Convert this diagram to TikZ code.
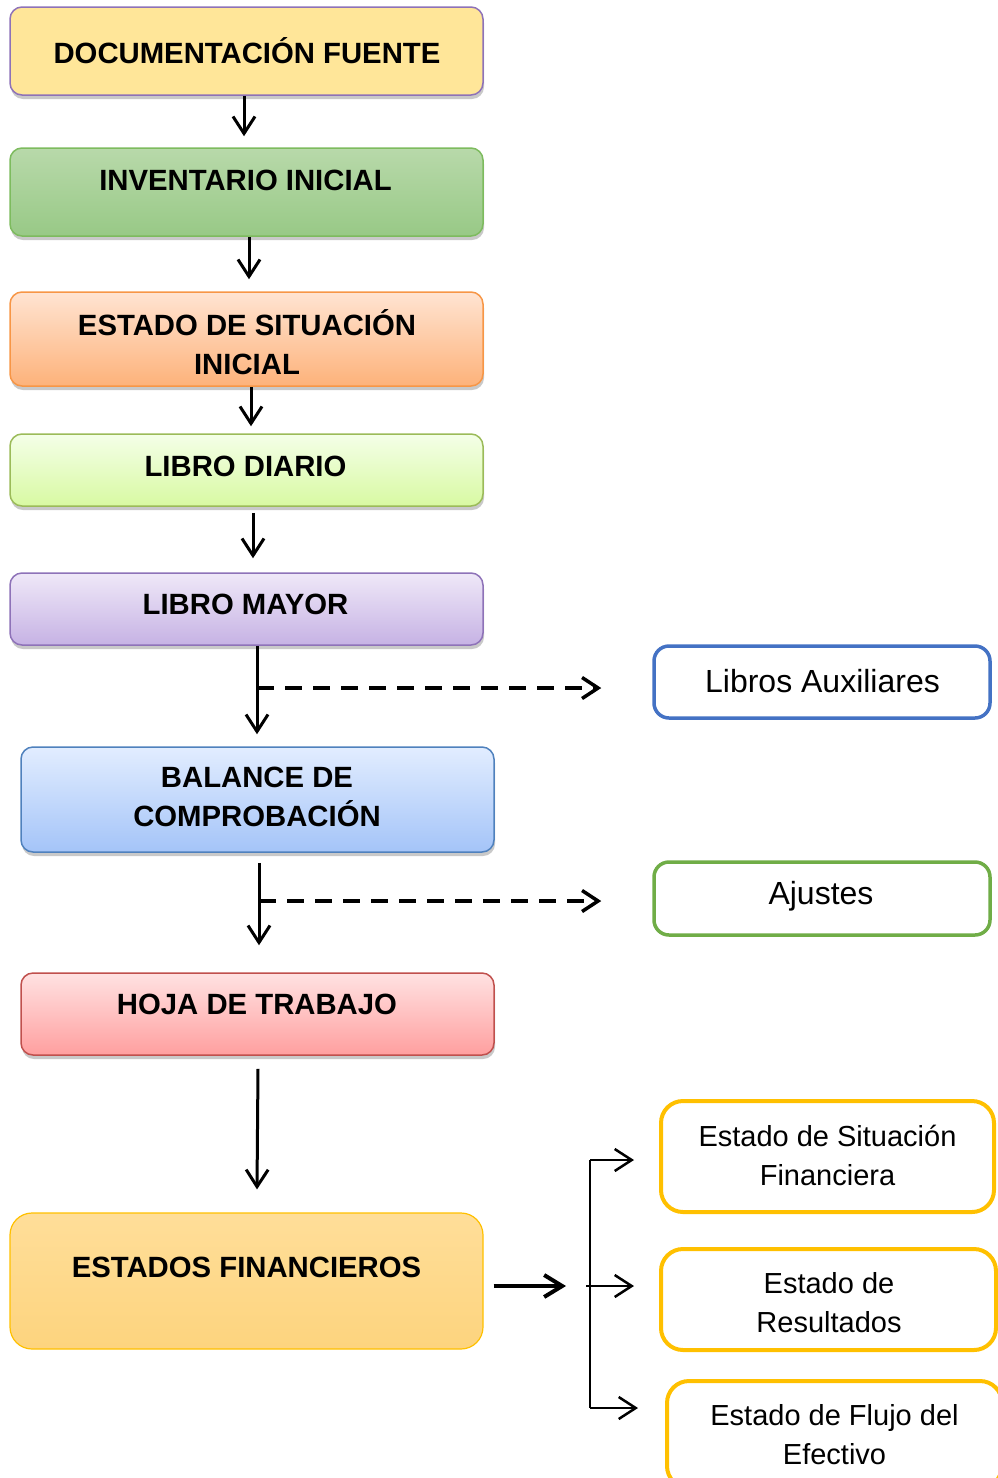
\documentclass[tikz,border=0pt]{standalone}
\usepackage{fontspec}
\setmainfont{Liberation Sans}
\usetikzlibrary{arrows.meta,shadows}
\definecolor{fYel}{HTML}{FFE699}
\definecolor{dPur}{HTML}{8E72B8}
\definecolor{gTop}{HTML}{B8D9AA}
\definecolor{gBot}{HTML}{98C986}
\definecolor{dGrn}{HTML}{7DBB5E}
\definecolor{oTop}{HTML}{FFE4D2}
\definecolor{oBot}{HTML}{FDB27A}
\definecolor{dOra}{HTML}{F79646}
\definecolor{lTop}{HTML}{F4FFE8}
\definecolor{lBot}{HTML}{D8F9A2}
\definecolor{dLgr}{HTML}{9BBB59}
\definecolor{pTop}{HTML}{EFE8F8}
\definecolor{pBot}{HTML}{C6B2E4}
\definecolor{bTop}{HTML}{E2EDFF}
\definecolor{bBot}{HTML}{A4C4F8}
\definecolor{dBlu}{HTML}{4F81BD}
\definecolor{rTop}{HTML}{FFE2E2}
\definecolor{rBot}{HTML}{FF9F9F}
\definecolor{dRed}{HTML}{C0504D}
\definecolor{yTop}{HTML}{FFDE99}
\definecolor{yBot}{HTML}{FDD47E}
\definecolor{dGold}{HTML}{FFC000}
\definecolor{auxBlu}{HTML}{4472C4}
\definecolor{ajGrn}{HTML}{70AD47}
\begin{document}
\begin{tikzpicture}[x=1pt,y=-1pt,
  mainbox/.style={rectangle, rounded corners=12pt, line width=1.5pt, inner sep=0pt,
    minimum width=473pt},
  shad/.style={drop shadow={shadow xshift=1pt, shadow yshift=-4pt, opacity=0.3, fill=black!70}},
  sidebox/.style={rectangle, rounded corners=15pt, line width=3.5pt, fill=white, inner sep=0pt},
  finbox/.style={rectangle, rounded corners=22pt, line width=4pt, draw=dGold, fill=white, inner sep=0pt},
  boldlbl/.style={align=center, inner sep=0pt, font=\fontsize{29.3}{39}\selectfont\bfseries},
  lbl/.style={align=center, inner sep=0pt, font=\fontsize{29}{39}\selectfont},
  biglbl/.style={align=center, inner sep=0pt, font=\fontsize{32}{39}\selectfont},
  arr/.style={line width=3pt, -{Straight Barb[length=17pt,width=22pt]}},
  darr/.style={line width=3.5pt, dash pattern=on 17pt off 11pt, -{Straight Barb[length=16pt,width=21pt]}},
  bigarr/.style={line width=4pt, -{Straight Barb[length=18pt,width=22pt]}},
  barr/.style={line width=2.5pt, -{Straight Barb[length=17pt,width=22pt]}},
  brline/.style={line width=2.5pt}
]
\useasboundingbox (0,0) rectangle (997,1478);

% main column boxes
\node[mainbox, shad, draw=dPur, fill=fYel, minimum height=88pt] (b1) at (246.5,51) {};
\node[mainbox, shad, draw=dGrn, top color=gTop, bottom color=gBot, minimum height=88pt] (b2) at (246.5,192) {};
\node[mainbox, shad, draw=dOra, top color=oTop, bottom color=oBot, minimum height=94pt] (b3) at (246.5,339) {};
\node[mainbox, shad, draw=dLgr, top color=lTop, bottom color=lBot, minimum height=72pt] (b4) at (246.5,470) {};
\node[mainbox, shad, draw=dPur, top color=pTop, bottom color=pBot, minimum height=72pt] (b5) at (246.5,609) {};
\node[mainbox, shad, draw=dBlu, top color=bTop, bottom color=bBot, minimum height=105pt] (b6) at (257.5,799.5) {};
\node[mainbox, shad, draw=dRed, top color=rTop, bottom color=rBot, minimum height=82pt] (b7) at (257.5,1014) {};
\node[mainbox, draw=dGold, line width=1.2pt, top color=yTop, bottom color=yBot, minimum height=136pt, rounded corners=22pt] (b8) at (246.5,1281) {};

\node[boldlbl] (t1) at (247,51) {DOCUMENTACIÓN FUENTE};
\node[boldlbl] (t2) at (245.5,180) {INVENTARIO INICIAL};
\node[boldlbl] (t3) at (247,342) {ESTADO DE SITUACIÓN\\INICIAL};
\node[boldlbl] (t4) at (245.5,466) {LIBRO DIARIO};
\node[boldlbl] (t5) at (245.5,604) {LIBRO MAYOR};
\node[boldlbl] (t6) at (257,797) {BALANCE DE\\COMPROBACIÓN};
\node[boldlbl] (t7) at (257,1004) {HOJA DE TRABAJO};
\node[boldlbl] (t8) at (246.5,1267) {ESTADOS FINANCIEROS};

% side boxes
\node[sidebox, draw=auxBlu, minimum width=336pt, minimum height=72pt] (aux) at (822,682) {};
\node[biglbl] (taux) at (822.5,681) {Libros Auxiliares};
\node[sidebox, draw=ajGrn, minimum width=336pt, minimum height=73pt] (aj) at (822,898.5) {};
\node[biglbl] (taj) at (821,896) {Ajustes};

\node[finbox, minimum width=333pt, minimum height=111pt] (r1) at (827.5,1156.5) {};
\node[lbl] (tr1) at (827.5,1155) {Estado de Situación\\Financiera};
\node[finbox, minimum width=335pt, minimum height=101pt] (r2) at (828.5,1299.5) {};
\node[lbl] (tr2) at (829,1303) {Estado de\\Resultados};
\node[finbox, minimum width=335pt, minimum height=107pt] (r3) at (834.5,1434.5) {};
\node[lbl] (tr3) at (834.5,1435) {Estado de Flujo del\\Efectivo};

% vertical arrows
\draw[arr] ([xshift=-2.5pt]b1.south) -- ([xshift=-2.5pt,yshift=11pt]b2.north);
\draw[arr] ([xshift=2.5pt]b2.south) -- ([xshift=2.5pt,yshift=12pt]b3.north);
\draw[arr] ([xshift=4.5pt]b3.south) -- ([xshift=4.5pt,yshift=7pt]b4.north);
\draw[arr] ([xshift=6.5pt,yshift=-6pt]b4.south) -- ([xshift=6.5pt,yshift=14pt]b5.north);
\draw[arr] ([xshift=10.5pt]b5.south) -- ([xshift=-0.5pt,yshift=12pt]b6.north);
\draw[arr] ([xshift=1.5pt,yshift=-10pt]b6.south) -- ([xshift=1.5pt,yshift=27pt]b7.north);
\draw[arr] ([xshift=0.5pt,yshift=-13pt]b7.south) -- ([xshift=10.5pt,yshift=23pt]b8.north);

% dashed side arrows
\coordinate (j1) at (257,688);
\coordinate (j2) at (259,901);
\draw[darr, shorten >=51pt] (j1) -- (j1 -| aux.west);
\draw[darr, shorten >=51pt] (j2) -- (j2 -| aj.west);

% financial statements fork
\coordinate (fk) at (590,1286);
\coordinate (k1) at (590,1160);
\coordinate (k3) at (590,1408);
\draw[bigarr] ([xshift=10pt,yshift=-5pt]b8.east) -- ([xshift=-24pt]fk);
\draw[brline] (k1) -- (k3);
\draw[barr, shorten >=25pt] (k1) -- (k1 -| r1.west);
\draw[barr, shorten >=25pt] ([xshift=-4pt]fk) -- (fk -| r2.west);
\draw[barr, shorten >=27pt] (k3) -- (k3 -| r3.west);
\end{tikzpicture}
\end{document}
